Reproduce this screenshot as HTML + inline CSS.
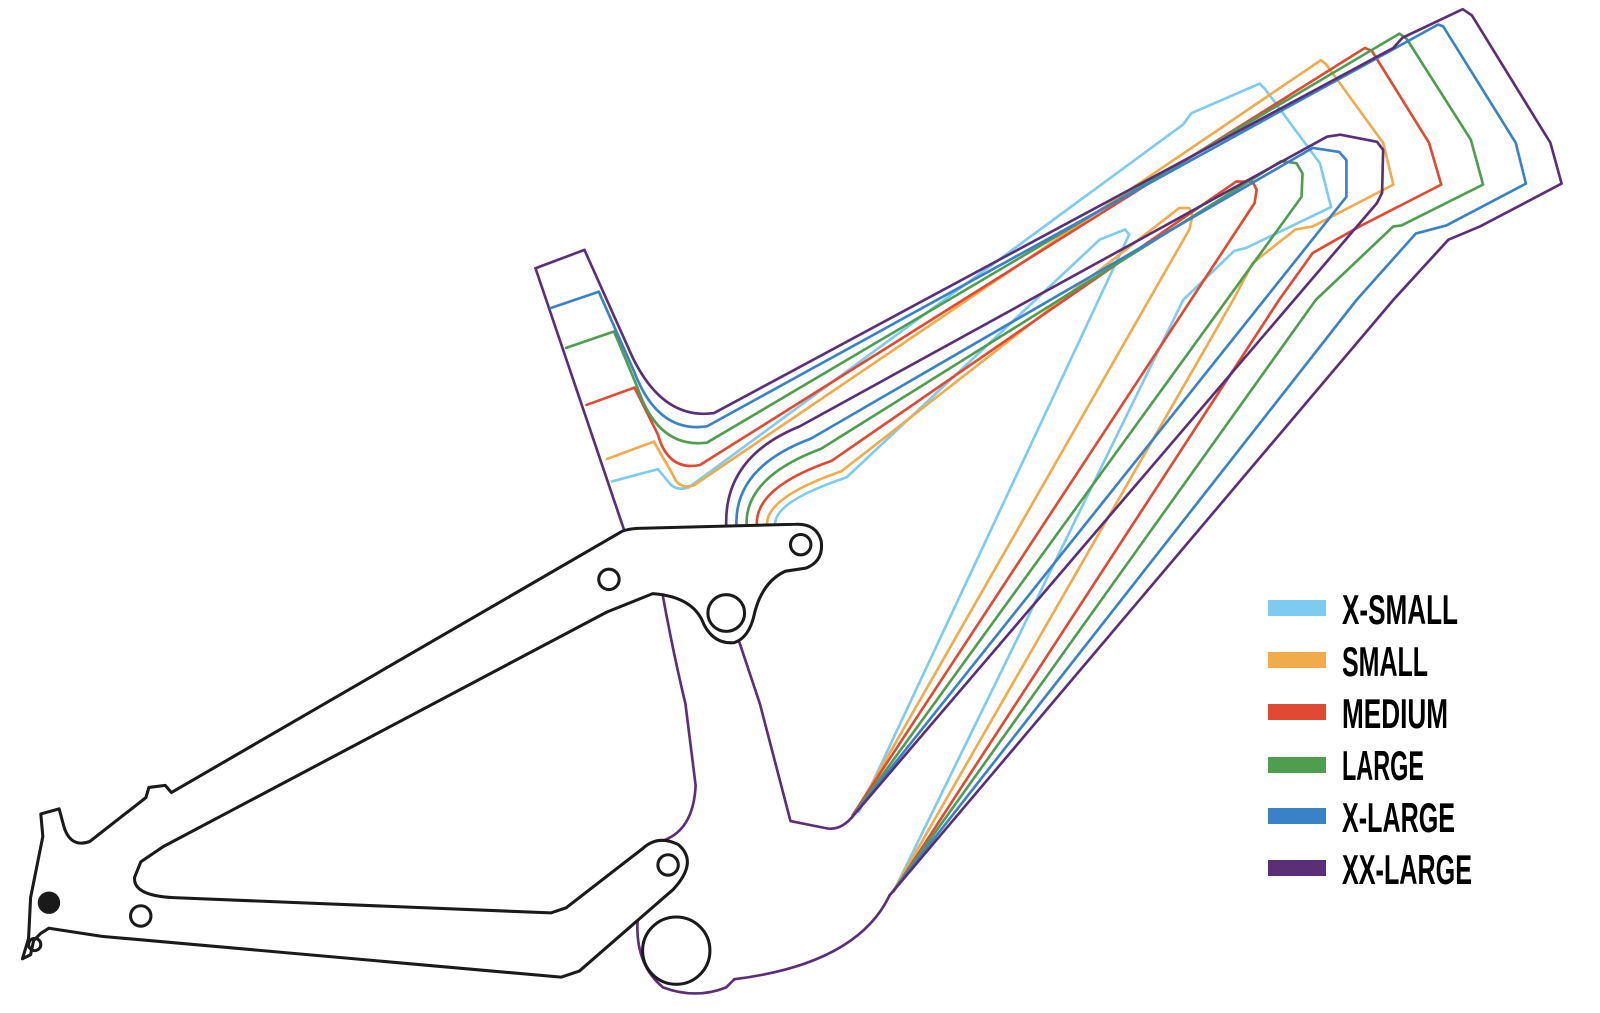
<!DOCTYPE html>
<html><head><meta charset="utf-8"><style>
html,body{margin:0;padding:0;background:#fff;}
svg{display:block;}
.lg{font-family:"Liberation Sans Narrow","Liberation Sans",sans-serif;font-weight:bold;font-size:42px;fill:#000;}
</style></head><body>
<svg width="1600" height="1013" viewBox="0 0 1600 1013" xmlns="http://www.w3.org/2000/svg">
<rect width="1600" height="1013" fill="#fff"/>
<g transform="scale(1.02)" fill="none" stroke-linejoin="round" stroke-linecap="round">
<g stroke="#5b2f78" stroke-width="2.6">
<path d="M525,263 L573,245"/>
<path d="M525,263 L612,520"/>
<path d="M650,585 Q660,640 672,690 L682,770 Q680,810 655,822 Q638,830 630,840"/>
<path d="M628,880 Q616,940 650,968 Q682,980 712,968 L720,960"/>
</g>
<path d="M540,302 L587,286" stroke="#3a82c8" stroke-width="2.6"/>
<path d="M555,341 L602,325" stroke="#4f9e4f" stroke-width="2.6"/>
<path d="M575,397 L622,380" stroke="#e04a33" stroke-width="2.6"/>
<path d="M595,450 L641,433" stroke="#f0ab4a" stroke-width="2.6"/>
<path d="M600,472 L645,460" stroke="#7ecbf0" stroke-width="2.6"/>

<g stroke="#7ecbf0" stroke-width="2.6">
<path d="M645,460 L655,472 Q662,482 675,478 L1160,122 L1168,111 L1235,82 L1240,87 L1294,160 L1305,203 L1222,243 L1210,246 L1160,294 L880,866"/>
<path d="M760,515 Q758,492 830,468 L1078,235 L1103,225 L1107,230 L1100,245 L842,796"/>
</g>
<g stroke="#f0ab4a" stroke-width="2.6">
<path d="M641,433 L660,466 Q665,480 680,476 L1295,59 L1300,63 L1356,140 L1366,181 L1287,222 L1270,225 L1228,258 L1209,294 L878,870"/>
<path d="M752,515 Q750,488 825,462 L1156,204 L1166,204 L1169,212 L1166,225 L838,798"/>
</g>
<g stroke="#e04a33" stroke-width="2.6">
<path d="M622,380 L645,426 Q655,462 686,456 L1338,47 L1345,50 L1401,140 L1413,181 L1333,222 L1287,248 L1254,294 L876,874"/>
<path d="M742,515 Q740,478 815,452 L1212,178 L1228,178 L1232,186 L1230,199 L836,799"/>
</g>
<g stroke="#4f9e4f" stroke-width="2.6">
<path d="M602,325 L625,380 Q645,440 693,434 L1372,33 L1379,38 L1442,137 L1454,181 L1374,221 L1366,222 L1290,294 L874,876"/>
<path d="M732,515 Q730,468 805,440 L1256,158 L1271,160 L1277,170 L1276,193 L836,800"/>
</g>
<g stroke="#3a82c8" stroke-width="2.6">
<path d="M587,286 L622,365 Q645,425 693,418 L1410,24 L1415,26 L1486,140 L1496,180 L1418,221 L1388,229 L1330,294 L872,878"/>
<path d="M722,515 Q720,458 795,430 L1287,145 L1313,149 L1320,157 L1320,193 L836,800"/>
</g>
<g stroke="#5b2f78" stroke-width="2.6">
<path d="M573,245 L620,350 Q650,412 700,405 L1366,47 L1375,37 L1434,9 L1443,15 L1520,140 L1531,180 L1451,222 L1420,235 L1366,294 L872,878 Q840,945 720,960"/>
<path d="M712,515 Q710,448 784,418 L1301,134 L1314,132 L1350,139 L1356,147 L1355,189 L1350,199 L838,798 Q825,815 810,812 L775,805 L745,690 L725,630"/>
</g>

<g stroke="#1a1a1a" stroke-width="3">
<path fill="#fff" d="M22,940 L30,936 L33,922 L40,915 L48,910 L100,918 L550,958 L568,952 L660,872 Q685,845 665,828 Q645,818 630,832 L555,890 L540,895 L170,880 Q130,878 132,860 L138,845 L160,830 L595,600 L640,582 Q680,585 690,612 Q700,632 720,630 Q735,625 740,600 Q748,570 770,560 L790,557 Q808,550 805,530 Q800,513 780,514 L625,518 Q612,519 608,522 L168,777 L162,770 L146,772 L143,782 L88,825 Q68,832 62,808 L58,793 L40,798 L42,820 L36,850 L30,880 L28,920 Z"/>
<circle cx="712" cy="601" r="18"/>
<circle cx="597" cy="568" r="10"/>
<circle cx="785" cy="534" r="10"/>
<circle cx="655" cy="848" r="10"/>
<circle cx="138" cy="898" r="10"/>
<circle cx="34" cy="926" r="6"/>
<circle cx="663" cy="932" r="33"/>
</g>
<circle cx="48" cy="885" r="11" fill="#1a1a1a"/>
</g>

<rect x="1268" y="600" width="58" height="16" fill="#7ecbf0"/>
<rect x="1268" y="652" width="58" height="16" fill="#f0ab4a"/>
<rect x="1268" y="704" width="58" height="16" fill="#e04a33"/>
<rect x="1268" y="757" width="58" height="16" fill="#4f9e4f"/>
<rect x="1268" y="808" width="58" height="16" fill="#3a82c8"/>
<rect x="1268" y="860" width="58" height="16" fill="#5b2f78"/>
<g class="lg">
<text x="1342" y="624" textLength="116" lengthAdjust="spacingAndGlyphs">X-SMALL</text>
<text x="1342" y="676" textLength="86" lengthAdjust="spacingAndGlyphs">SMALL</text>
<text x="1342" y="728" textLength="106" lengthAdjust="spacingAndGlyphs">MEDIUM</text>
<text x="1342" y="780" textLength="82" lengthAdjust="spacingAndGlyphs">LARGE</text>
<text x="1342" y="832" textLength="113" lengthAdjust="spacingAndGlyphs">X-LARGE</text>
<text x="1342" y="884" textLength="130" lengthAdjust="spacingAndGlyphs">XX-LARGE</text>
</g>
</svg>
</body></html>
